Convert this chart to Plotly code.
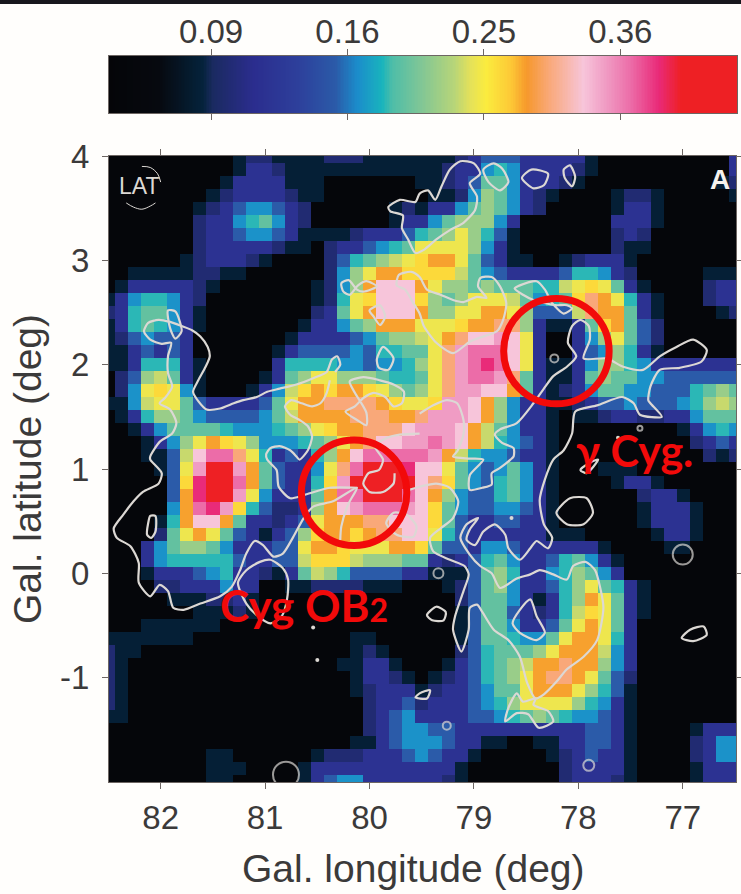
import numpy as np
import plotly.graph_objects as go

W, H = 741, 894
# counts map: one character per pixel, level index into FLUX_LEVELS
LEVEL_KEYS = "0123456789abcdefghi"
FLUX_LEVELS = [.055,.084,.098,.116,.153,.168,.183,.195,.216,.233,.245,.261,.280,.300,.328,.347,.369,.394,.439]
LON = [82.5 - 0.125*i for i in range(49)]
LAT = [4.0 - 0.125*j for j in range(49)]
MAP_ROWS = [
"0000000000 12211112221111 11123444333331 0000000000 3",
"0000000000 1332 1111111111 11233565333321 0000000000 3",
"000000000 1 3333 111 0000000 1123477533321 0000000000 12",
"00000000 12 3333 211 0000000 01125875321 0000 1221 00000 1",
"0000000 123455432 00000012 1335787532 00000 1331 000000",
"0000000 233567532 000000 13 35788853 0000000 3331 000000",
"0000000 233455431 111 23334 678a8641 0000000 2320 000000",
"0000000 233333211 0 2334567 aaaa8531 0000000 2110 000000",
"000000 1233321 0000 246789a bcca74311 00 123331 00000000",
"00 11111 2211 000000 258accb bbb97543333466532 00000 111",
"01 33333 21 0000000 1258ceee ca88787776 69aba731 0000 233",
"13566532 00000000 126abeee b878aaa975 67bdca631 000 233",
"23677531 00000000 237aceee c88aacca84 449dcc731 0000 12",
"13676531 0000000 133578ccc aaabccdd83 1137bc742 000000",
"12454430 000000 1333345788 9acdeefea3 00358a742 000000",
"11343430 00000 13444454667 7adfgggea3 003458631 000000",
"11366631 00000 36666554556 8adfghgea3 11358865 3333333",
"02489731 0000 13 78aa888766 7adfggfd73 11378775 5444444",
"025aba51 000 135 9bcbccba87 8adffeec73 12357755 4446787",
"1159aa74 333347 accddddcba abffec8533 11234454 4456898",
"01368875 444457 9ccccdddcc dfffec8533 10112332 2335777",
"00135777 765556 78abccddde fffec97533 10000000 0013565",
"0001358a cba855 5678acdeef fgfec96543 10000000 0002343",
"0001149e ggda63 4368cegggg gfc9655433 10000000 0000212",
"000014af iifc74 335adgiiih eea7545753 10001110 0000000",
"000004bh iigc74 336bfiiiii edb7546753 10000133 1000000",
"000004ch iifa53 337cggiiig ec85446753 10000002 3310000",
"000005cg hfb642 238cefgggf eb75445543 10000001 3331000",
"000016ce ec7332 34acccddee eb74334433 10000001 3331000",
"000027ac a74313 48bccbcdde ea64333333 11100000 1331000",
"00035788 753334 4accbaaacc b744355433 33331000 0110000",
"00035666 66433449bbb98887 732346753 346753100 0000000",
"00013334 5633213798644443 311147863 356875300 0000000",
"00002233 3533001122221110 001247853 3468a7631 0000000",
"00000111 2231000000000000 000247753 1368ca731 0000000",
"00000001 1121000000000000 000147743 2369ba731 0000000",
"00011111 1000000000000000 000147753 347aca730 0000000",
"11111110 00000000000 11000 000147765 57acca630 0000000",
"21100000 00000000000 12100 000246777 8accc9530 0000000",
"21000000 0000000000 113310 001346789 ccdcc8530 0000000",
"21000000 00000000000 13321 01234678a cddca7420 0000000",
"21000000 00000000000 12333 12334577a ccca86410 0000000",
"21000000 000000000000 2334 23334568a aaa865310 0000000",
"11000000 000000000000 2345 333344567 876554310 0000000",
"00000000 000000000000 2345 544333333 333344310 0001333",
"00000000 00000000000 11345 554331100 113344310 0002355",
"00000000 11 000000 12223334 543310000 012343310 0002355",
"00000000 111 0000 1 33333333 333100000 002333310 0001333",
"00000000 11 00000 1 34553333 332100000 002333210 0001333",
]
CBAR_VALUES = [0.09, 0.16, 0.25, 0.36]
CBAR_LABELS = ["0.09", "0.16", "0.25", "0.36"]
FLUX_MIN, FLUX_MAX = 0.0507, 0.47
LON_TICKS = [82, 81, 80, 79, 78, 77]
LAT_TICKS = [4, 3, 2, 1, 0, -1]

# white column-density contours (lon, lat)
C_WEST = [(80.33,1.93),(80.28,2.00),(80.31,2.08),(80.36,2.05),(80.41,1.93),(80.54,1.87),(80.70,1.81),(80.86,1.77),(80.98,1.74),(81.08,1.69),(81.21,1.66),(81.30,1.63),(81.43,1.58),(81.56,1.57),(81.64,1.65),(81.69,1.74),(81.64,1.85),(81.57,1.98),(81.53,2.08),(81.55,2.17),(81.62,2.27),(81.70,2.33),(81.80,2.37),(81.91,2.41),(82.02,2.43),(82.12,2.40),(82.16,2.32),(82.10,2.24),(81.99,2.20),(81.90,2.21),(81.93,2.08),(81.93,1.92),(81.89,1.79),(81.96,1.68),(82.01,1.63),(81.91,1.57),(81.85,1.44),(81.89,1.34),(82.01,1.26),(82.10,1.12),(82.10,1.09),(81.99,.96),(82.02,.86),(82.17,.78),(82.26,.69),(82.36,.56),(82.45,.43),(82.42,.34),(82.29,.26),(82.21,.10),(82.21,-.09),(82.10,-.22),(82.01,-.11),(81.93,-.17),(81.88,-.33),(81.78,-.35),(81.62,-.29),(81.43,-.22),(81.32,-.13),(81.24,.03),(81.18,.19),(81.10,.31),(81.02,.27),(80.92,.16),(80.83,.19),(80.73,.35),(80.63,.53),(80.54,.64),(80.35,.69),(80.12,.82),(80.20,.67),(80.27,.45),(80.28,.32)]
C_EAR = [(81.93,2.52),(81.86,2.51),(81.80,2.32),(81.86,2.25),(81.91,2.35),(81.93,2.52)]
C_MID = [(80.38,1.85),(80.41,1.73),(80.47,1.63),(80.55,1.60),(80.65,1.63),(80.75,1.66),(80.81,1.60),(80.76,1.52),(80.67,1.47),(80.59,1.41),(80.55,1.31),(80.59,1.18),(80.67,1.09),(80.70,1.12),(80.76,1.18),(80.86,1.22),(80.95,1.20),(80.99,1.14),(80.98,1.09),(80.89,.99),(80.87,.83),(80.76,.72),(80.63,.75),(80.38,.82),(80.12,.82)]
C_OB2 = [(81.26,-.09),(81.18,.03),(81.05,.11),(80.95,.13),(80.83,.05),(80.78,-.06),(80.79,-.25),(80.84,-.41),(80.95,-.48),(81.08,-.40),(81.18,-.29),(81.26,-.09)]
C_SLIT = [(82.10,.55),(82.05,.55),(82.05,.40),(82.09,.34),(82.13,.37),(82.12,.48),(82.10,.55)]
C_S1 = [(80.27,2.78),(80.20,2.81),(80.12,2.72),(80.06,2.70),(79.93,2.75),(80.03,2.80),(80.11,2.76),(80.19,2.67),(80.25,2.70),(80.27,2.78)]
C_S2 = [(80.00,2.52),(79.90,2.57),(79.85,2.46),(79.90,2.38),(79.96,2.46),(80.00,2.52)]
C_S3 = [(79.93,2.05),(79.87,2.17),(79.77,2.06),(79.82,1.95),(79.91,1.97),(79.93,2.05)]
C_NORTH = [(79.56,3.07),(79.63,3.20),(79.69,3.31),(79.68,3.43),(79.80,3.47),(79.82,3.51),(79.71,3.58),(79.56,3.56),(79.52,3.64),(79.44,3.67),(79.37,3.58),(79.31,3.71),(79.23,3.87),(79.13,3.95),(79.00,3.93),(78.94,3.83),(79.04,3.74),(78.97,3.61),(78.99,3.48),(79.10,3.36),(79.23,3.29),(79.36,3.20),(79.48,3.10),(79.56,3.07)]
C_LOOP = [(79.72,2.86),(79.60,2.89),(79.52,2.84),(79.45,2.72),(79.32,2.67),(79.20,2.62),(79.10,2.60),(78.97,2.65),(78.88,2.64),(78.96,2.75),(78.94,2.83),(78.83,2.84),(78.75,2.75),(78.69,2.59),(78.72,2.43),(78.78,2.32),(78.91,2.27),(79.04,2.22),(79.20,2.11),(79.36,2.21),(79.48,2.37),(79.52,2.49),(79.58,2.59),(79.66,2.72),(79.74,2.76),(79.72,2.86)]
C_SQUIG = [(80.19,1.84),(80.06,1.88),(79.90,1.85),(79.77,1.81),(79.67,1.74),(79.69,1.63),(79.77,1.60),(79.85,1.69),(79.96,1.73),(80.06,1.68),(80.14,1.60),(80.23,1.55),(80.12,1.47),(80.03,1.42),(80.03,1.54),(80.14,1.73),(80.19,1.84)]
C_CORE = [(79.52,1.34),(79.71,1.33),(79.83,1.30),(79.95,1.22),(79.87,1.09),(79.91,.99),(80.01,.96),(80.06,.86),(80.00,.78),(79.87,.78),(79.77,.86),(79.76,.96)]
C_PINK = [(79.84,.48),(79.77,.58),(79.64,.56),(79.55,.45),(79.58,.35),(79.74,.37),(79.84,.48)]
C_EAST = [(79.52,1.53),(79.39,1.61),(79.26,1.66),(79.16,1.63),(79.10,1.47),(79.10,1.33),(79.16,1.17),(79.20,1.12),(79.04,1.10),(78.91,1.09),(79.04,.94),(79.04,.80),(78.92,.82),(78.83,.85),(78.83,.96),(78.75,1.01),(78.65,1.09),(78.62,1.12),(78.62,1.20),(78.73,1.25),(78.80,1.33),(78.75,1.38),(78.59,1.44),(78.43,1.63),(78.33,1.77),(78.24,1.89),(78.11,1.98),(78.02,2.08),(78.10,2.21),(78.06,2.37),(77.98,2.43),(77.90,2.37),(77.89,2.24),(77.95,2.06),(77.73,2.06),(77.57,1.98),(77.38,1.95),(77.22,2.08),(77.06,2.17),(76.90,2.24),(76.77,2.14),(76.82,2.03),(77.03,1.97),(77.22,1.95),(77.31,1.79),(77.33,1.66),(77.31,1.63),(77.20,1.50),(77.41,1.52),(77.47,1.63),(77.58,1.69),(77.82,1.61),(78.03,1.55),(78.06,1.34),(78.14,1.18),(78.24,1.09),(78.32,.90),(78.37,.70),(78.33,.47),(78.25,.34),(78.29,.24),(78.40,.31),(78.46,.24),(78.56,.13),(78.67,.24),(78.70,.37),(78.80,.47),(78.91,.40),(78.99,.27),(79.07,.32),(79.04,.42),(78.96,.53),(79.07,.47),(79.13,.34),(79.04,.18),(78.94,.07),(78.83,.00),(78.75,-.14),(78.59,-.05),(78.46,-.01),(78.37,.03),(78.24,-.01),(78.11,-.06),(78.05,.07),(77.93,.11),(77.84,.03),(77.79,-.14),(77.76,-.33),(77.82,-.64),(77.95,-.80),(78.11,-.92),(78.21,-1.04),(78.33,-1.16),(78.41,-1.20),(78.49,-1.05),(78.56,-.80),(78.67,-.64),(78.81,-.54),(78.92,-.37),(78.97,-.30),(79.04,-.33),(79.05,-.54),(79.12,-.75),(79.20,-.54),(79.18,-.41),(79.10,-.17),(79.05,-.01),(79.09,.07),(79.23,.13),(79.39,.21),(79.42,.34),(79.32,.43),(79.20,.53),(79.15,.69),(79.23,.82),(79.36,.86),(79.52,.83),(79.62,.80)]
C_FOOT = [(78.41,-1.20),(78.53,-1.23),(78.59,-1.15),(78.67,-1.29),(78.70,-1.42),(78.59,-1.34),(78.48,-1.35),(78.38,-1.48),(78.24,-1.42),(78.29,-1.32),(78.43,-1.26),(78.41,-1.20)]
C_TRI = [(78.46,-.25),(78.40,-.41),(78.32,-.57),(78.40,-.64),(78.56,-.57),(78.63,-.48),(78.56,-.35),(78.46,-.25)]
C_RIDGE = [(78.61,2.73),(78.56,2.76),(78.40,2.80),(78.32,2.72),(78.25,2.59),(78.14,2.49),(78.06,2.54),(78.11,2.57),(78.22,2.57),(78.43,2.62),(78.53,2.67),(78.61,2.73)]
C_O1 = [(78.91,3.87),(78.81,3.93),(78.73,3.88),(78.67,3.75),(78.75,3.67),(78.86,3.75),(78.91,3.87)]
C_O2 = [(78.54,3.79),(78.45,3.87),(78.29,3.83),(78.33,3.72),(78.43,3.69),(78.54,3.79)]
C_O3 = [(78.14,3.87),(78.08,3.91),(78.03,3.80),(78.06,3.71),(78.13,3.79),(78.14,3.87)]
C_O4 = [(78.21,.58),(78.08,.72),(77.92,.72),(77.86,.58),(77.95,.47),(78.11,.47),(78.21,.58)]
C_O5 = [(77.01,-.62),(76.93,-.54),(76.80,-.51),(76.77,-.59),(76.90,-.65),(77.01,-.62)]
C_O6 = [(79.45,-.40),(79.36,-.32),(79.27,-.37),(79.29,-.45),(79.40,-.45),(79.45,-.40)]
C_O7 = [(79.52,-1.15),(79.42,-1.12),(79.45,-1.20),(79.52,-1.20),(79.56,-1.19),(79.52,-1.15)]
C_O8 = [(77.98,.99),(77.89,1.06),(77.81,1.09),(77.92,.96),(77.98,.99)]
CONTOURS = [C_WEST,C_EAR,C_MID,C_OB2,C_SLIT,C_S1,C_S2,C_S3,C_NORTH,C_LOOP,C_SQUIG,C_CORE,C_PINK,C_EAST,C_FOOT,C_TRI,C_RIDGE,C_O1,C_O2,C_O3,C_O4,C_O5,C_O6,C_O7,C_O8]
RING_LON = [77.00, 79.34, 79.26, 77.90, 78.23, 77.41, 80.80]
RING_LAT = [0.18, 0.00, -1.46, -1.84, 2.06, 1.39, -1.93]
RING_SIZE = [20, 10, 8, 11, 8, 5, 26]
DOT_LON = [80.54, 80.50, 78.64, 77.62]
DOT_LAT = [-.52, -.83, .53, 1.30]
LAT_ARC_TOP = [(82.18,3.90),(82.10,3.89),(82.03,3.83),(82.00,3.75)]
LAT_ARC_BOTTOM = [(82.33,3.55),(82.26,3.51),(82.18,3.49),(82.10,3.52),(82.05,3.55)]
RED_CIRCLES = [(80.148, 0.772, 0.505), (78.21, 2.13, 0.505)]

TEXT = "#3b3a3a"
AXC = "#6d6663"
LINE = "#dcd8d4"
RED = "#f20a0a"
FONT = "Liberation Sans"

rows = [r.replace(" ", "") for r in MAP_ROWS]
for j, r in enumerate(rows):
    if len(r) != 49:
        raise ValueError(f"row {j} has {len(r)}")
idx = {k: v for k, v in zip(LEVEL_KEYS, FLUX_LEVELS)}
Z = np.sqrt(np.array([[idx[c] for c in r] for r in rows]))

COLORS = [(0,"#050508"),(.08,"#06090f"),(.15,"#05233c"),(.165,"#1a2a60"),(.23,"#2b2d8e"),(.30,"#2d3f9b"),(.36,"#2b5aa8"),(.395,"#1b8ccb"),(.435,"#19b4bd"),(.45,"#4dbda8"),(.50,"#84c794"),(.55,"#b8d578"),(.575,"#e4e15a"),(.60,"#fbec3e"),(.64,"#fdc836"),(.665,"#f6982c"),(.70,"#f9a878"),(.755,"#f7c5da"),(.79,"#f09cc4"),(.83,"#ec6ca8"),(.875,"#e92a78"),(.91,"#ee2024"),(1,"#ee2024")]

zmin, zmax = np.sqrt(FLUX_MIN), np.sqrt(FLUX_MAX)
ramp = np.linspace(zmin, zmax, 400)
fig = go.Figure()
fig.add_trace(go.Heatmap(x=LON, y=LAT, z=Z, zmin=zmin, zmax=zmax, colorscale=COLORS, hoverinfo="skip", showscale=False))
for c in CONTOURS:
    fig.add_trace(go.Scatter(x=[p[0] for p in c], y=[p[1] for p in c], mode="lines", hoverinfo="skip", showlegend=False,
                             line=dict(color=LINE, width=2.2, shape="spline", smoothing=0.7)))
fig.add_trace(go.Scatter(x=RING_LON, y=RING_LAT, mode="markers", hoverinfo="skip", showlegend=False,
                         marker=dict(symbol="circle-open", size=RING_SIZE, color=LINE, line=dict(color=LINE, width=2))))
fig.add_trace(go.Scatter(x=DOT_LON, y=DOT_LAT, mode="markers", hoverinfo="skip", showlegend=False,
                         marker=dict(symbol="circle", size=4, color=LINE)))
for arc in (LAT_ARC_TOP, LAT_ARC_BOTTOM):
    fig.add_trace(go.Scatter(x=[p[0] for p in arc], y=[p[1] for p in arc], mode="lines", hoverinfo="skip", showlegend=False,
                             line=dict(color=LINE, width=1, shape="spline")))
# colour-bar ramp on its own axis
fig.add_trace(go.Heatmap(x=ramp, y=[0, 1], z=[ramp, ramp], zmin=zmin, zmax=zmax, colorscale=COLORS, showscale=False,
                         hoverinfo="skip", xaxis="x2", yaxis="y2"))

shapes = [dict(type="circle", xref="x", yref="y", x0=lo-r, x1=lo+r, y0=la-r, y1=la+r, line=dict(color=RED, width=7), layer="above")
          for lo, la, r in RED_CIRCLES]
shapes.append(dict(type="rect", xref="paper", yref="paper", x0=0, x1=1, y0=1-4/H, y1=1, fillcolor="#17171d", line=dict(width=0), layer="above"))

fig.update_layout(
    width=W, height=H, margin=dict(l=0, r=0, t=0, b=0, autoexpand=False), paper_bgcolor="#fffefc", plot_bgcolor="#050508",
    showlegend=False, shapes=shapes, font=dict(family=FONT, color=TEXT),
    xaxis=dict(domain=[109/W, 736/W], range=[82.495, 76.49], tickvals=LON_TICKS, ticktext=[str(v) for v in LON_TICKS],
               ticks="outside", ticklen=6, tickwidth=1.2, tickcolor=AXC, mirror="ticks", showline=True, linecolor=AXC, linewidth=1.2,
               showgrid=False, zeroline=False, tickfont=dict(size=33, color=TEXT), ticklabelstandoff=0),
    yaxis=dict(domain=[1-782/H, 1-156/H], range=[-2, 4], tickvals=LAT_TICKS, ticktext=[str(v) for v in LAT_TICKS],
               ticks="outside", ticklen=6, tickwidth=1.2, tickcolor=AXC, mirror="ticks", showline=True, linecolor=AXC, linewidth=1.2,
               showgrid=False, zeroline=False, tickfont=dict(size=33, color=TEXT), ticklabelstandoff=6,
               title=dict(text="Gal. latitude (deg)", font=dict(size=39, color=TEXT), standoff=6)),
    xaxis2=dict(domain=[109/W, 737/W], range=[zmin, zmax], anchor="y2", side="top", tickvals=np.sqrt(CBAR_VALUES).tolist(), ticktext=CBAR_LABELS,
                ticks="outside", ticklen=6, tickwidth=1.2, tickcolor=AXC, mirror="ticks", showline=True, linecolor=AXC, linewidth=1.2,
                tickfont=dict(size=33, color=TEXT), showgrid=False, zeroline=False, ticklabelstandoff=-7),
    yaxis2=dict(domain=[1-113/H, 1-56/H], range=[0, 1], anchor="x2", showticklabels=False, ticks="", showgrid=False, zeroline=False,
                showline=True, mirror=True, linecolor=AXC, linewidth=1.2),
    annotations=[
        dict(x=413/W, y=1-868/H, xref="paper", yref="paper", xanchor="center", yanchor="middle", text="Gal. longitude (deg)", showarrow=False, font=dict(family=FONT, size=39, color=TEXT)),
        dict(x=80.63, y=-0.30, xref="x", yref="y", text="<b>Cyg OB<span style='font-size:32px'>2</span></b>", showarrow=False, font=dict(family="Lato", size=44, color=RED)),
        dict(x=77.46, y=1.18, xref="x", yref="y", text="<b>γ Cyg.</b>", showarrow=False, font=dict(family="Lato", size=43, color=RED)),
        dict(x=76.64, y=3.77, xref="x", yref="y", text="<b>A</b>", showarrow=False, font=dict(family=FONT, size=28, color="#f5f2ee")),
        dict(x=82.21, y=3.71, xref="x", yref="y", text="LAT", showarrow=False, font=dict(family=FONT, size=23, color=LINE)),
    ],
)
fig.write_html("out.html", config={"displayModeBar": False}, post_script="document.body.style.margin='0';")
